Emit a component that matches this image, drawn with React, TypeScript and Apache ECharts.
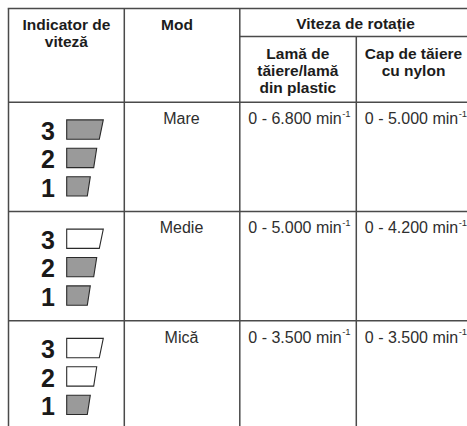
import React, { useEffect, useRef } from "react";
import * as echarts from "echarts";

// ---- Table content ----
const indicatorHeader = ["Indicator de", "viteză"];
const modeHeader = ["Mod"];
const speedHeader = "Viteza de rotație";
const bladeHeader = ["Lamă de", "tăiere/lamă", "din plastic"];
const nylonHeader = ["Cap de tăiere", "cu nylon"];
const modes = ["Mare", "Medie", "Mică"];
const bladeSpeeds = ["0 - 6.800", "0 - 5.000", "0 - 3.500"];
const nylonSpeeds = ["0 - 5.000", "0 - 4.200", "0 - 3.500"];
const speedUnit = "min";
const unitExponent = "-1";
const indicatorSteps = [3, 2, 1];
const activeSteps = [3, 2, 1]; // number of lit steps per mode

// ---- Layout ----
const W = 467;
const H = 426;
const FONT = '"Liberation Sans", Arial, Helvetica, sans-serif';
const LINE = "#4a4a4a";
const colX = [8.5, 124.3, 239.8, 356.3];
const topY = 8.5;
const subHeadY = 36.6;
const headBottomY = 102.3;
const rowTops = [102.3, 211.5, 320.8];
const HEAD_SIZE = 15.5;
const BODY_SIZE = 16;
const CENTRAL = 0.33;

function measure(text: string, size: number, weight = "normal") {
  const c = document.createElement("canvas").getContext("2d");
  if (!c) return text.length * size * 0.5;
  c.font = `${weight} ${size}px ${FONT}`;
  return c.measureText(text).width;
}

function txt(x: number, baseline: number, s: string, size: number, bold: boolean, align = "center", color?: string) {
  return {
    type: "text",
    x,
    y: baseline - CENTRAL * size,
    style: {
      text: s,
      fontSize: size,
      fontFamily: FONT,
      fontWeight: bold ? "bold" : "normal",
      fill: color || (bold ? "#1c1c1c" : "#2e2e2e"),
      align,
      verticalAlign: "middle",
    },
    silent: true,
  };
}

function ln(x1: number, y1: number, x2: number, y2: number) {
  return {
    type: "line",
    shape: { x1, y1, x2, y2 },
    style: { stroke: LINE, lineWidth: 1.5 },
    silent: true,
  };
}

function buildGraphics() {
  const els: any[] = [];
  // grid lines
  els.push(ln(colX[0] - 0.75, topY, W, topY));
  els.push(ln(colX[2], subHeadY, W, subHeadY));
  els.push(ln(colX[0], headBottomY, W, headBottomY));
  rowTops.slice(1).forEach((y) => els.push(ln(colX[0], y, W, y)));
  els.push(ln(colX[0], topY, colX[0], H));
  els.push(ln(colX[1], topY, colX[1], H));
  els.push(ln(colX[2], topY, colX[2], H));
  els.push(ln(colX[3], subHeadY, colX[3], H));

  // headers
  indicatorHeader.forEach((s, i) => els.push(txt(66.4, 29.3 + i * 17.2, s, HEAD_SIZE, true)));
  modeHeader.forEach((s, i) => els.push(txt(177, 29.3 + i * 17.2, s, HEAD_SIZE, true)));
  els.push(txt(355.5, 28.5, speedHeader, HEAD_SIZE, true));
  bladeHeader.forEach((s, i) => els.push(txt(297.8, 58.5 + i * 17, s, HEAD_SIZE, true)));
  nylonHeader.forEach((s, i) => els.push(txt(413.5, 58.5 + i * 17, s, HEAD_SIZE, true)));

  // rows
  const stepWidths: Record<number, [number, number]> = { 3: [36.6, 32.6], 2: [30, 27], 1: [23.6, 20.6] };
  modes.forEach((m, r) => {
    const top = rowTops[r];
    const base = top + 21.6;
    els.push(txt(181.5, base, m, BODY_SIZE, false));
    [bladeSpeeds[r], nylonSpeeds[r]].forEach((v, k) => {
      const x0 = (k === 0 ? colX[2] : colX[3]) + 8.5;
      const main = `${v} ${speedUnit}`;
      els.push(txt(x0, base, main, BODY_SIZE, false, "left"));
      const w = measure(main, BODY_SIZE);
      els.push(txt(x0 + w + 0.5, base - 7.5, unitExponent, 9.5, false, "left"));
    });
    indicatorSteps.forEach((step, j) => {
      const sTop = top + 17.6 + j * 28.4;
      const sH = 19.3;
      const [tw, bw] = stepWidths[step];
      const x = 66.7;
      const lit = step <= activeSteps[r];
      els.push({
        type: "polygon",
        shape: {
          points: [
            [x, sTop],
            [x + tw, sTop],
            [x + bw, sTop + sH],
            [x, sTop + sH],
          ],
        },
        style: { fill: lit ? "#9a9a9a" : "#ffffff", stroke: "#2a2a2a", lineWidth: 1.1 },
        silent: true,
      });
      els.push({
        type: "text",
        x: 48,
        y: sTop + sH / 2 + 1.2,
        style: {
          text: String(step),
          fontSize: 25,
          fontFamily: FONT,
          fontWeight: "bold",
          fill: "#1a1a1a",
          align: "center",
          verticalAlign: "middle",
        },
        silent: true,
      });
    });
  });
  return els;
}

export default function App() {
  const ref = useRef<HTMLDivElement>(null);
  useEffect(() => {
    if (!ref.current) return;
    const chart = echarts.init(ref.current, null, { renderer: "svg", width: W, height: H });
    chart.setOption({
      animation: false,
      backgroundColor: "#ffffff",
      graphic: { elements: buildGraphics() },
    });
    return () => chart.dispose();
  }, []);
  return (
    <div
      ref={ref}
      style={{ position: "fixed", left: 0, top: 0, width: W, height: H, background: "#fff" }}
    />
  );
}
